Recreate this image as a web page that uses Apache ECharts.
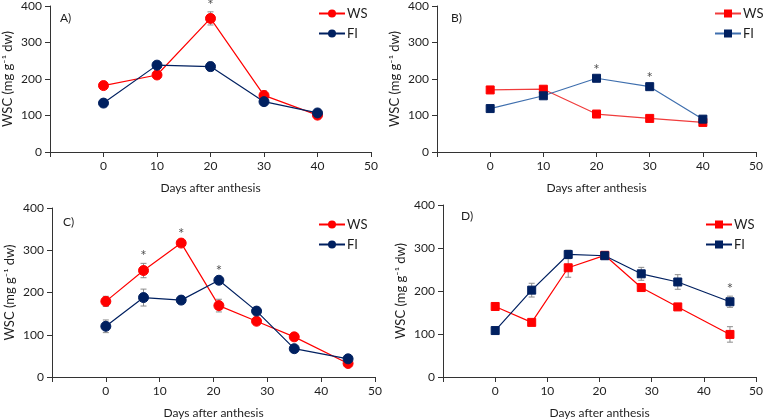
<!DOCTYPE html>
<html><head><meta charset="utf-8">
<script src="https://cdn.jsdelivr.net/npm/echarts@6/dist/echarts.min.js"></script>
<style>html,body{margin:0;padding:0;background:#fff}#c{width:766px;height:420px}</style>
</head><body><div id="c"></div>
<script>
// Panel A
var daysA = [0, 10, 20, 30, 40];
var wsA = [182, 211, 366, 155, 101];
var wsErrA = [5, 10, 18, 12, 4];
var fiA = [134, 238, 234, 138, 107];
var fiErrA = [4, 8, 12, 5, 4];
var sigA = [20];
// Panel B
var daysB = [0, 10, 20, 30, 40];
var wsB = [170, 172, 104, 92, 81];
var wsErrB = [3, 3, 3, 3, 3];
var fiB = [119, 154, 202, 179, 90];
var fiErrB = [3, 3, 3, 3, 3];
var sigB = [20, 30];
// Panel C
var daysC = [0, 7, 14, 21, 28, 35, 45];
var wsC = [179, 252, 317, 169, 132, 95, 32];
var wsErrC = [12, 17, 5, 15, 4, 4, 4];
var fiC = [120, 188, 182, 229, 156, 67, 43];
var fiErrC = [15, 20, 5, 5, 4, 4, 4];
var sigC = [7, 14, 21];
// Panel D
var daysD = [0, 7, 14, 21, 28, 35, 45];
var wsD = [164, 127, 254, 283, 208, 163, 99];
var wsErrD = [4, 4, 22, 5, 4, 4, 18];
var fiD = [108, 202, 285, 282, 240, 221, 175];
var fiErrD = [4, 16, 10, 8, 15, 17, 13];
var sigD = [45];
// Axis ticks
var xTicks = [0, 10, 20, 30, 40, 50];
var yTicks = [0, 100, 200, 300, 400];
var panelLabels = ['A)', 'B)', 'C)', 'D)'];
var seriesNames = ['WS', 'FI'];
var yName = 'WSC (mg g\u207B\u00B9 dw)';
var xName = 'Days after anthesis';

var FONT = 'Lato';
var TXT = '#1e1e1e';
var RED = '#ff0000';
var NAVY = '#002060';

var panels = [
  {days: daysA, ws: wsA, wsE: wsErrA, fi: fiA, fiE: fiErrA, sig: sigA, sym: 'circle', size: 10,
   grid: {left: 50, top: 6, width: 321, height: 146}, leg: {left: 313, top: 2},
   lab: {x: 60, y: 12}, wsLine: RED, fiLine: NAVY},
  {days: daysB, ws: wsB, wsE: wsErrB, fi: fiB, fiE: fiErrB, sig: sigB, sym: 'rect', size: 8,
   grid: {left: 437, top: 6, width: 321, height: 146}, leg: {left: 709, top: 2},
   lab: {x: 451, y: 12}, wsLine: '#f03c3c', fiLine: '#3f6fae'},
  {days: daysC, ws: wsC, wsE: wsErrC, fi: fiC, fiE: fiErrC, sig: sigC, sym: 'circle', size: 10,
   grid: {left: 52, top: 208, width: 323, height: 170}, leg: {left: 313, top: 213},
   lab: {x: 63, y: 216}, wsLine: RED, fiLine: NAVY},
  {days: daysD, ws: wsD, wsE: wsErrD, fi: fiD, fiE: fiErrD, sig: sigD, sym: 'rect', size: 8,
   grid: {left: 443, top: 205, width: 316, height: 172}, leg: {left: 700, top: 213},
   lab: {x: 461, y: 210}, wsLine: RED, fiLine: NAVY}
];

var grids = [], xAxes = [], yAxes = [], series = [], legends = [], graphics = [];

function errRender(params, api) {
  var x = api.value(0), y = api.value(1), e = api.value(2);
  var top = api.coord([x, y + e]);
  var bot = api.coord([x, y - e]);
  var w = 3;
  var st = {stroke: '#8c8c8c', lineWidth: 1};
  return {type: 'group', children: [
    {type: 'line', shape: {x1: top[0], y1: top[1], x2: bot[0], y2: bot[1]}, style: st},
    {type: 'line', shape: {x1: top[0] - w, y1: top[1], x2: top[0] + w, y2: top[1]}, style: st},
    {type: 'line', shape: {x1: bot[0] - w, y1: bot[1], x2: bot[0] + w, y2: bot[1]}, style: st}
  ]};
}

panels.forEach(function (p, i) {
  grids.push(p.grid);
  xAxes.push({
    type: 'value', gridIndex: i, min: -10, max: 50, interval: 10,
    name: xName, nameLocation: 'middle', nameGap: 30,
    nameTextStyle: {fontFamily: FONT, fontSize: 12, color: TXT},
    axisLine: {onZero: false, lineStyle: {color: '#333', width: 1}},
    axisTick: {show: true, length: 5, lineStyle: {color: '#333'}},
    axisLabel: {fontFamily: FONT, fontSize: 12, color: TXT, margin: 8,
      formatter: function (v) { return xTicks.indexOf(v) >= 0 ? String(v) : ''; }},
    splitLine: {show: false}
  });
  yAxes.push({
    type: 'value', gridIndex: i, min: 0, max: 400, interval: 100,
    name: yName, nameLocation: 'middle', nameGap: 36,
    nameTextStyle: {fontFamily: FONT, fontSize: 13, color: TXT},
    axisLine: {show: true, onZero: false, lineStyle: {color: '#333', width: 1}},
    axisTick: {show: true, length: 5, lineStyle: {color: '#333'}},
    axisLabel: {fontFamily: FONT, fontSize: 12, color: TXT, margin: 8,
      formatter: function (v) { return yTicks.indexOf(v) >= 0 ? String(v) : ''; }},
    splitLine: {show: false}
  });
  var wsName = seriesNames[0] + '|' + i, fiName = seriesNames[1] + '|' + i;
  var wsData = p.days.map(function (d, k) { return [d, p.ws[k]]; });
  var fiData = p.days.map(function (d, k) { return [d, p.fi[k]]; });
  var wsErr = p.days.map(function (d, k) { return [d, p.ws[k], p.wsE[k]]; });
  var fiErr = p.days.map(function (d, k) { return [d, p.fi[k], p.fiE[k]]; });
  series.push({type: 'custom', xAxisIndex: i, yAxisIndex: i, renderItem: errRender, data: wsErr, z: 1, silent: true});
  series.push({type: 'custom', xAxisIndex: i, yAxisIndex: i, renderItem: errRender, data: fiErr, z: 1, silent: true});
  series.push({type: 'line', name: wsName, xAxisIndex: i, yAxisIndex: i, data: wsData,
    symbol: p.sym, symbolSize: p.size, showAllSymbol: true,
    lineStyle: {color: p.wsLine, width: 1.2}, itemStyle: {color: RED, borderColor: RED}, z: 3});
  series.push({type: 'line', name: fiName, xAxisIndex: i, yAxisIndex: i, data: fiData,
    symbol: p.sym, symbolSize: p.size, showAllSymbol: true,
    lineStyle: {color: p.fiLine, width: 1.2}, itemStyle: {color: NAVY, borderColor: NAVY}, z: 3});
  // significance asterisks placed above the higher error-bar top
  var sigData = p.sig.map(function (d) {
    var k = p.days.indexOf(d);
    var top = Math.max(p.ws[k] + p.wsE[k], p.fi[k] + p.fiE[k]);
    return [d, top];
  });
  series.push({type: 'scatter', xAxisIndex: i, yAxisIndex: i, data: sigData, symbolSize: 1, clip: false,
    itemStyle: {color: 'rgba(0,0,0,0)'}, silent: true,
    label: {show: true, position: 'top', distance: -1, formatter: '*', fontFamily: FONT, fontSize: 15, color: TXT}, z: 4});
  legends.push({
    data: [{name: wsName}, {name: fiName}], orient: 'vertical', left: p.leg.left, top: p.leg.top,
    itemWidth: 26, itemHeight: 10, itemGap: 7, selectedMode: false,
    formatter: function (n) { return n.split('|')[0]; },
    textStyle: {fontFamily: FONT, fontSize: 13, color: TXT, padding: [0, 0, 0, -3]}
  });
  graphics.push({type: 'text', left: p.lab.x, top: p.lab.y, style: {text: panelLabels[i], font: '12px ' + FONT, fill: TXT}});
});

var chart = echarts.init(document.getElementById('c'), null, {renderer: 'canvas'});
chart.setOption({
  animation: false,
  grid: grids, xAxis: xAxes, yAxis: yAxes, series: series, legend: legends, graphic: graphics
});
</script></body></html>
